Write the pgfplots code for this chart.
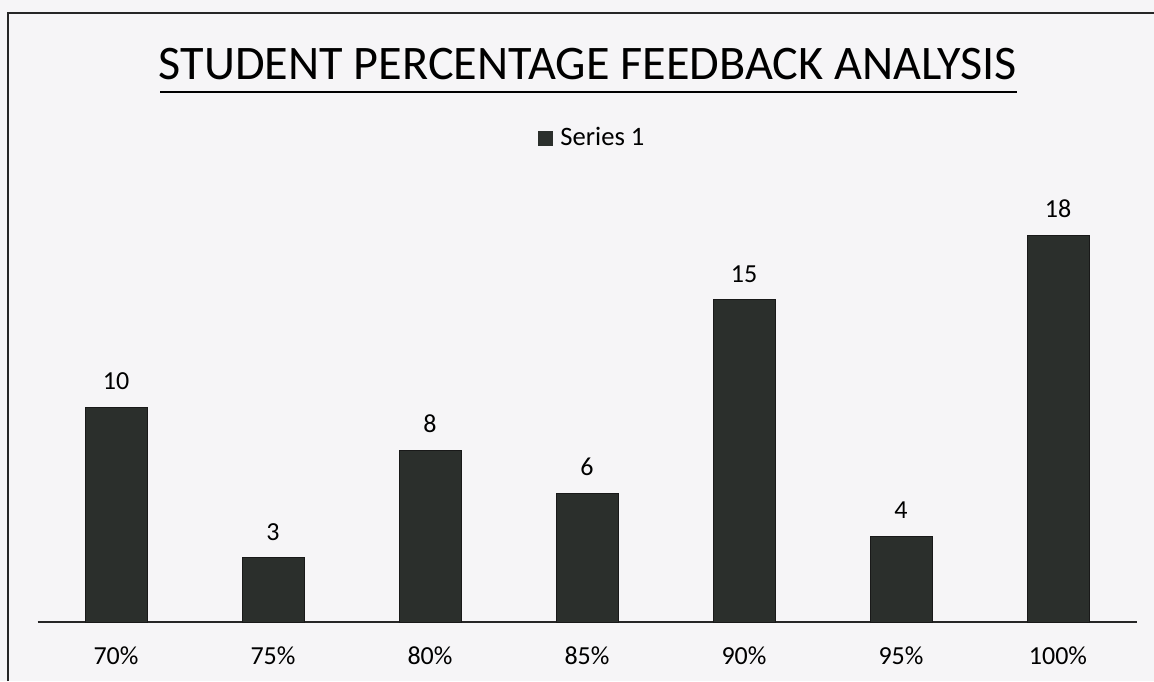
\documentclass[border=0pt]{standalone}
\usepackage{pgfplots}
\pgfplotsset{compat=1.18}
\usepackage{fontspec}
\setmainfont{Carlito}
\definecolor{barc}{HTML}{2B2F2C}
\definecolor{bg}{HTML}{F6F5F7}
\begin{document}
\begin{tikzpicture}
\fill[bg] (-18.75pt,-29.5pt) rectangle (558.25pt,311pt);
\path[use as bounding box] (-18.75pt,-29.5pt) rectangle (558.25pt,311pt);
\draw[black!85, line width=0.9pt] (-14.75pt,-29.5pt) -- (-14.75pt,304.5pt) -- (558.25pt,304.5pt);
\begin{axis}[
  at={(0,0)}, anchor=south west,
  scale only axis, width=549.5pt, height=215pt,
  ybar, bar width=31pt,
  xmin=-0.5, xmax=6.5, ymin=0, ymax=20,
  axis x line*=bottom, axis y line=none,
  x axis line style={black!85, line width=0.9pt, -},
  xtick=data, xticklabels={70\%,75\%,80\%,85\%,90\%,95\%,100\%},
  major tick length=0pt,
  xticklabel style={font=\fontsize{13}{15}\selectfont, yshift=-9pt},
  /pgf/number format/assume math mode=true,
  nodes near coords,
  every node near coord/.append style={font=\fontsize{13}{15}\selectfont, black, yshift=5pt},
  legend style={at={(0.5055,1.1256)}, anchor=center, draw=none, fill=none, font=\fontsize{13.3}{15}\selectfont,
    /tikz/every even column/.append style={column sep=2pt}},
  legend image code/.code={\fill[barc] (0pt,-3.5pt) rectangle (7pt,3.5pt);},
  clip=false,
]
\addplot[fill=barc, draw=black!90] coordinates {(0,10) (1,3) (2,8) (3,6) (4,15) (5,4) (6,18)};
\addlegendentry{\hspace{2pt}Series 1}
\end{axis}
\node[font=\fontsize{24.1}{29}\selectfont, anchor=base] at (275.25pt,271pt) {STUDENT PERCENTAGE FEEDBACK ANALYSIS};
\draw[black, line width=1.4pt] (61.25pt,265pt) -- (489.75pt,265pt);
\end{tikzpicture}
\end{document}
